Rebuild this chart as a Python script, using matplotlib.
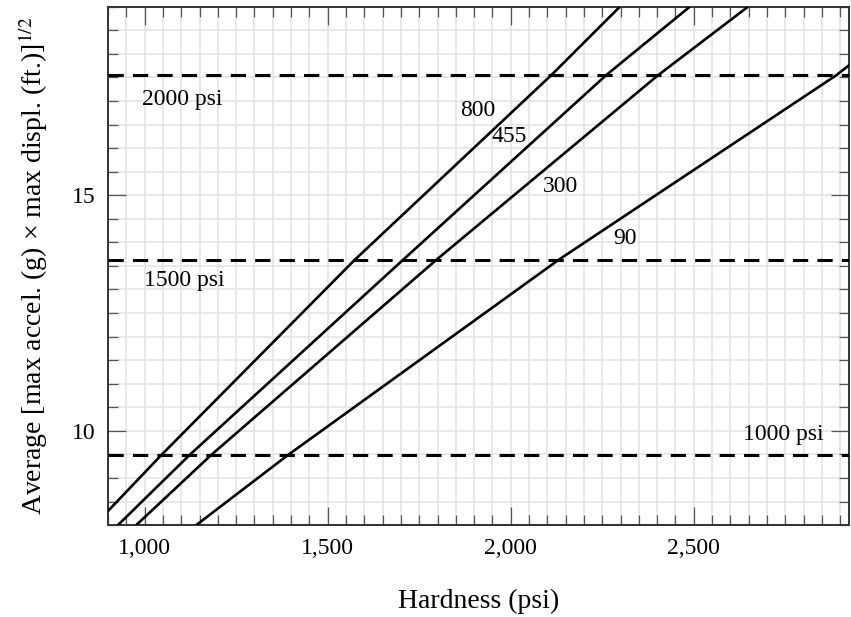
import matplotlib
matplotlib.use("Agg")
import matplotlib.pyplot as plt
from matplotlib.ticker import MultipleLocator, FuncFormatter

plt.rcParams["font.family"] = ["Liberation Serif", "DejaVu Serif"]
plt.rcParams["mathtext.fontset"] = "stix"

# points: hardness (psi) vs average sqrt(accel * displ)
LINE_LABELS = ["800", "455", "300", "90"]
HARDNESS = [
    [900, 1046, 1574, 2111, 2298],
    [927, 1123, 1706, 2261, 2489],
    [977, 1182, 1797, 2403, 2648],
    [1141, 1392, 2131, 2890, 2926],
]
AVG_VALUE = [
    [8.30, 9.49, 13.63, 17.55, 19.0],
    [8.0, 9.49, 13.63, 17.55, 19.0],
    [8.0, 9.49, 13.63, 17.55, 19.0],
    [8.0, 9.49, 13.63, 17.55, 17.77],
]

# horizontal strength levels
LEVEL_LABELS = ["1000 psi", "1500 psi", "2000 psi"]
LEVEL_VALUES = [9.49, 13.63, 17.55]

fig = plt.figure(figsize=(8.51, 6.17), dpi=100)
ax = fig.add_axes([0.127, 0.149, 0.871, 0.840])

for xs, ys in zip(HARDNESS, AVG_VALUE):
    ax.plot(xs, ys, color="black", lw=1.9, solid_capstyle="butt", zorder=3)

for val in LEVEL_VALUES:
    ax.axhline(val, color="black", lw=2.2, dashes=(5, 3), zorder=3)

# curve labels
ax.text(1910, 16.80, LINE_LABELS[0], fontsize=17, ha="center", va="center")
ax.text(1997, 16.25, LINE_LABELS[1], fontsize=17, ha="center", va="center")
ax.text(2137, 15.19, LINE_LABELS[2], fontsize=17, ha="center", va="center")
ax.text(2311, 14.09, LINE_LABELS[3], fontsize=17, ha="center", va="center")

# level labels
ax.text(1104, 17.04, LEVEL_LABELS[2], fontsize=17, ha="center", va="center")
ax.text(1107, 13.20, LEVEL_LABELS[1], fontsize=17, ha="center", va="center")
ax.text(2746, 9.93, LEVEL_LABELS[0], fontsize=17, ha="center", va="center")

ax.set_xlim(900, 2925)
ax.set_ylim(8, 19)

ax.xaxis.set_major_locator(MultipleLocator(500))
ax.xaxis.set_minor_locator(MultipleLocator(50))
ax.yaxis.set_major_locator(MultipleLocator(5))
ax.yaxis.set_minor_locator(MultipleLocator(0.5))
ax.xaxis.set_major_formatter(FuncFormatter(lambda v, _: f"{int(v):,}"))

ax.grid(which="both", color="#e4e4e4", lw=1.2, zorder=0)
ax.set_axisbelow(True)

ax.tick_params(which="both", direction="in", top=True, right=True,
               color="#555555", width=0.9, labelsize=17, pad=9)
ax.tick_params(which="major", length=13)
ax.tick_params(which="minor", length=7)

for sp in ax.spines.values():
    sp.set_color("#333333")
    sp.set_linewidth(1.4)

ax.set_xlabel("Hardness (psi)", fontsize=20, labelpad=22)
ax.set_ylabel("Average [max accel. (g) \u00d7 max displ. (ft.)]$^{1/2}$",
              fontsize=20, labelpad=16)

fig.savefig("out.png", dpi=100)
